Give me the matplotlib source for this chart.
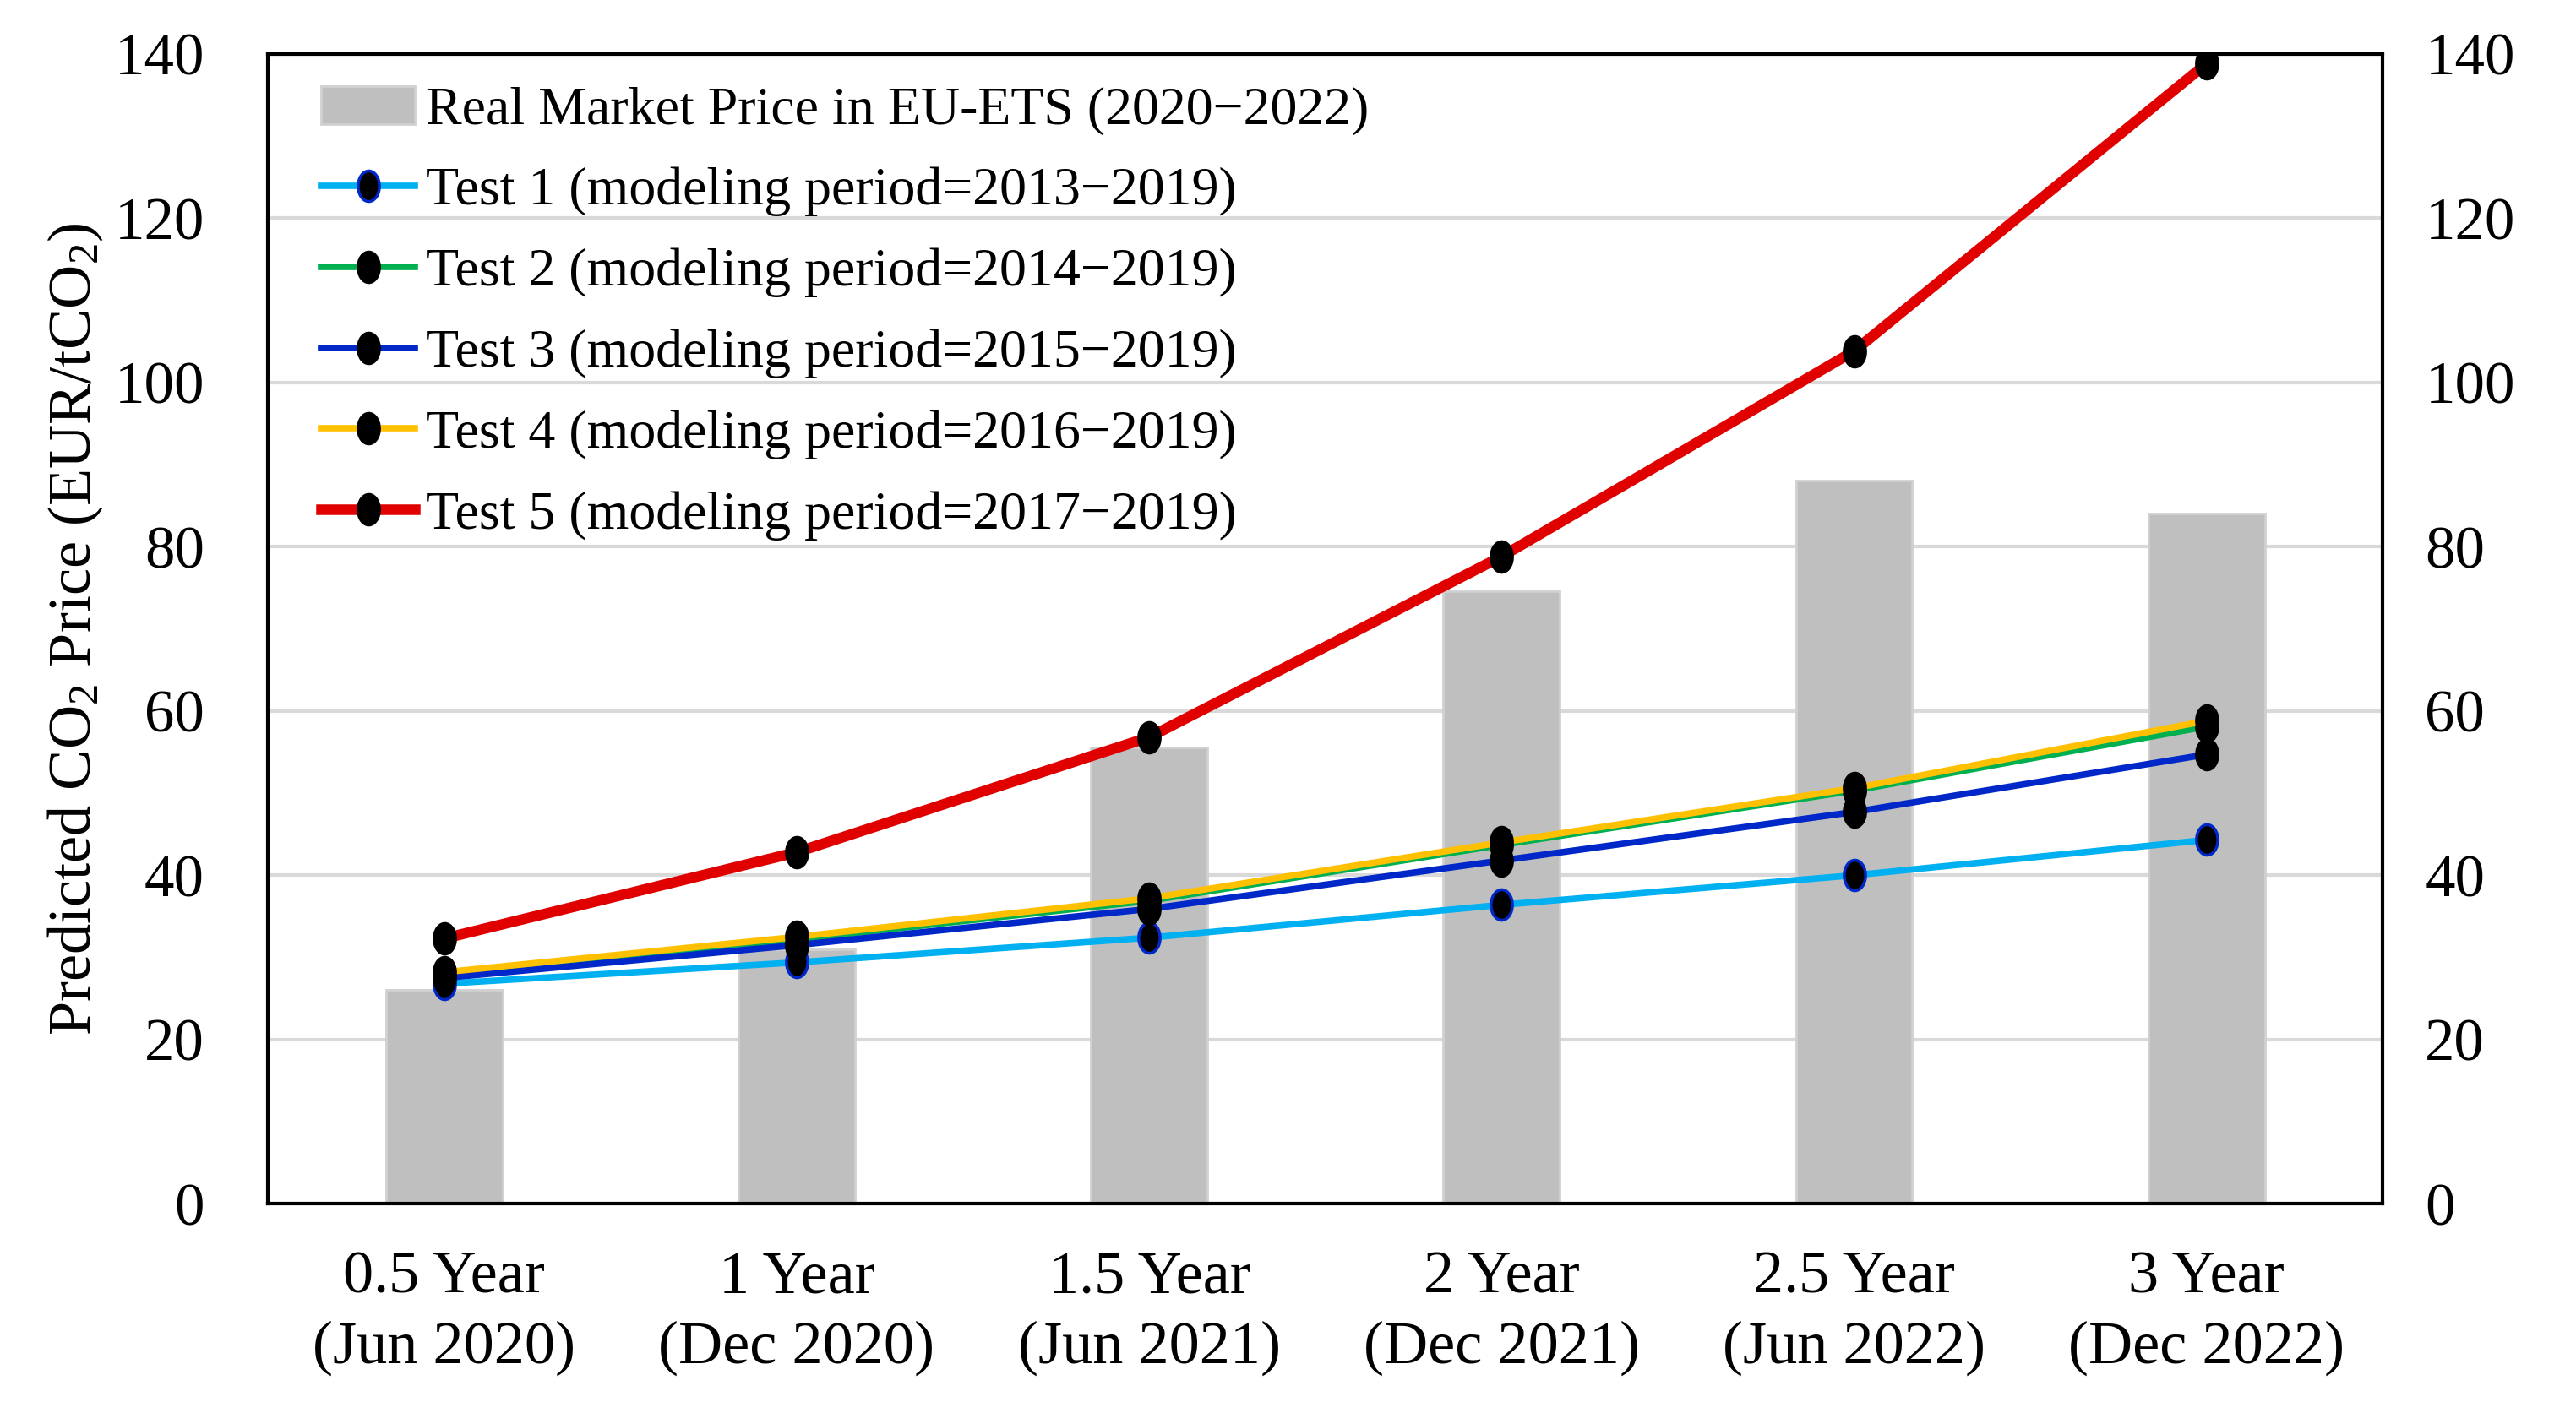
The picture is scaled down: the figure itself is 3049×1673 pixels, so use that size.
import matplotlib
matplotlib.use("Agg")
import matplotlib.pyplot as plt
import numpy as np
from matplotlib.path import Path

plt.rcParams['font.family'] = ['Liberation Serif', 'DejaVu Serif']
plt.rcParams['mathtext.fontset'] = 'custom'
plt.rcParams['mathtext.rm'] = 'Liberation Serif'
plt.rcParams['mathtext.it'] = 'Liberation Serif:italic'

categories = ["0.5 Year\n(Jun 2020)", "1 Year\n(Dec 2020)", "1.5 Year\n(Jun 2021)",
              "2 Year\n(Dec 2021)", "2.5 Year\n(Jun 2022)", "3 Year\n(Dec 2022)"]
real_price = [26.0, 31.0, 55.6, 74.6, 88.0, 84.0]
test1 = [26.8, 29.4, 32.4, 36.4, 40.0, 44.3]
test2 = [28.0, 32.2, 36.9, 43.7, 50.3, 58.1]
test3 = [27.5, 31.5, 35.9, 41.8, 47.7, 54.7]
test4 = [28.2, 32.5, 37.2, 44.0, 50.6, 58.8]
test5 = [32.3, 42.8, 56.8, 78.8, 103.8, 138.8]
yticks = [0, 20, 40, 60, 80, 100, 120, 140]

labels = ["Test 1 (modeling period=2013\u22122019)",
          "Test 2 (modeling period=2014\u22122019)",
          "Test 3 (modeling period=2015\u22122019)",
          "Test 4 (modeling period=2016\u22122019)",
          "Test 5 (modeling period=2017\u22122019)"]
colors = ["#00b0f0", "#00b050", "#0027c8", "#ffc000", "#e00000"]
widths = [5.5, 5.5, 5.5, 5.5, 9.0]
edges = ["#0027c8", "black", "black", "black", "black"]

circ = Path.unit_circle()
ell = Path(circ.vertices * np.array([0.7, 1.0]), circ.codes)

fig = plt.figure(figsize=(30.49, 16.73), dpi=100)
ax = fig.add_axes([0.104, 0.148, 0.821, 0.814])
x = np.arange(len(categories))

bars = ax.bar(x, real_price, width=0.33, color="#bfbfbf", edgecolor="#d0d0d0", linewidth=2,
              label="Real Market Price in EU-ETS (2020\u22122022)", zorder=2)
handles = [bars]
for vals, lab, c, w, e in zip([test1, test2, test3, test4, test5], labels, colors, widths, edges):
    ln, = ax.plot(x, vals, color=c, lw=w, marker=ell, markersize=26, markerfacecolor="black",
                  markeredgecolor=e, markeredgewidth=2.5, label=lab, zorder=3)
    handles.append(ln)

ax.set_xlim(-0.5, 5.5)
ax.set_ylim(0, 140)
ax.set_yticks(yticks)
ax.set_xticks(x)
ax.set_xticklabels(categories, fontsize=52, linespacing=1.35)
ax.tick_params(axis='both', length=0)
ax.tick_params(axis='x', pad=40)
ax.tick_params(axis='y', pad=54, labelsize=51)
ax.yaxis.grid(True, color="#d9d9d9", lw=3, zorder=0)
ax.set_axisbelow(True)
for s in ax.spines.values():
    s.set_linewidth(3)
    s.set_color("black")

ax2 = ax.twinx()
ax2.set_ylim(0, 140)
ax2.set_yticks(yticks)
ax2.tick_params(axis='y', length=0, labelsize=51, pad=36)
for s in ax2.spines.values():
    s.set_visible(False)

ax.set_ylabel("Predicted CO$_2$ Price (EUR/tCO$_2$)", fontsize=52, labelpad=8)

leg = ax.legend(handles=handles, loc="upper left", frameon=False, fontsize=46, handlelength=1.73,
                handletextpad=0.21, labelspacing=0.58, borderaxespad=0.2,
                bbox_to_anchor=(0.010, 1.0))

fig.savefig("out.png", dpi=100)
